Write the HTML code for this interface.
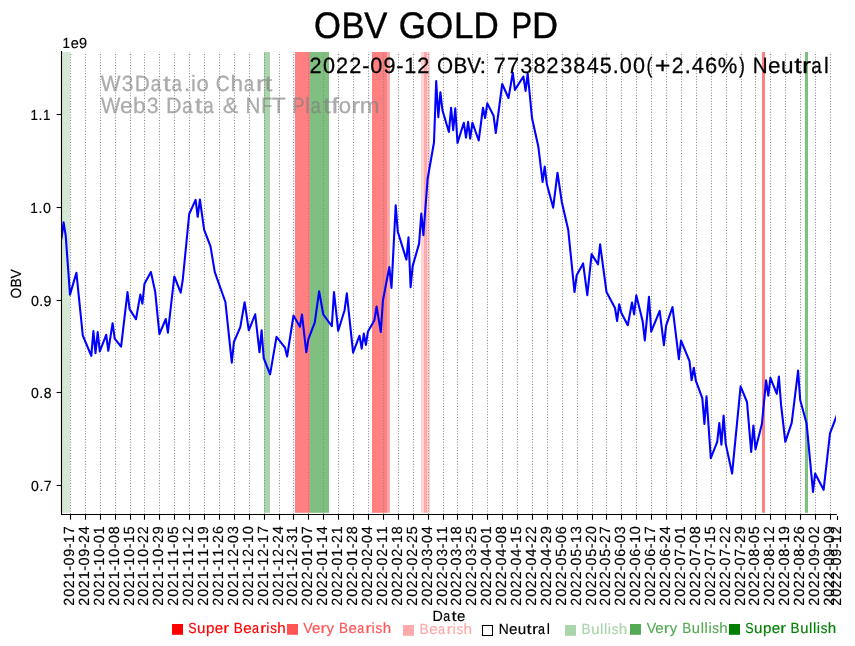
<!DOCTYPE html>
<html><head><meta charset="utf-8"><title>OBV GOLD PD</title>
<style>html,body{margin:0;padding:0;background:#fff}body{width:855px;height:646px;overflow:hidden;font-family:"Liberation Sans",sans-serif}svg text{font-family:"Liberation Sans",sans-serif;font-kerning:none;text-rendering:geometricPrecision}</style></head>
<body>
<svg width="855" height="646" viewBox="0 0 855 646" font-family="Liberation Sans, sans-serif" style="display:block;will-change:transform">
<rect x="62.0" y="52.0" width="8.0" height="460.8" fill="#d4e9d4"/>
<rect x="264.0" y="52.0" width="6.0" height="460.8" fill="#aad5aa"/>
<rect x="295.0" y="52.0" width="15.0" height="460.8" fill="#ff8080"/>
<rect x="310.0" y="52.0" width="19.0" height="460.8" fill="#7fbf7f"/>
<rect x="372.0" y="52.0" width="15.0" height="460.8" fill="#ff8080"/>
<rect x="387.0" y="52.0" width="3.0" height="460.8" fill="#ffaaaa"/>
<rect x="421.0" y="52.0" width="3.0" height="460.8" fill="#ffd4d4"/>
<rect x="424.0" y="52.0" width="3.0" height="460.8" fill="#ffaaaa"/>
<rect x="427.0" y="52.0" width="3.0" height="460.8" fill="#ffd4d4"/>
<rect x="762.0" y="52.0" width="3.0" height="460.8" fill="#ff8080"/>
<rect x="805.0" y="52.0" width="3.0" height="460.8" fill="#7fbf7f"/>
<path d="M70.5 514V52 M85.5 514V52 M100.5 514V52 M115.5 514V52 M130.5 514V52 M144.5 514V52 M159.5 514V52 M174.5 514V52 M189.5 514V52 M204.5 514V52 M219.5 514V52 M234.5 514V52 M249.5 514V52 M264.5 514V52 M279.5 514V52 M293.5 514V52 M308.5 514V52 M323.5 514V52 M338.5 514V52 M353.5 514V52 M368.5 514V52 M383.5 514V52 M398.5 514V52 M413.5 514V52 M428.5 514V52 M443.5 514V52 M457.5 514V52 M472.5 514V52 M487.5 514V52 M502.5 514V52 M517.5 514V52 M532.5 514V52 M547.5 514V52 M562.5 514V52 M577.5 514V52 M592.5 514V52 M606.5 514V52 M621.5 514V52 M636.5 514V52 M651.5 514V52 M666.5 514V52 M681.5 514V52 M696.5 514V52 M711.5 514V52 M726.5 514V52 M741.5 514V52 M755.5 514V52 M770.5 514V52 M785.5 514V52 M800.5 514V52 M815.5 514V52 M830.5 514V52" stroke="#888" stroke-width="1.1" stroke-dasharray="1.05 1.7" stroke-dashoffset="0.275" fill="none"/>
<g opacity="0.66">
<text transform="scale(0.9470 1)" x="106.45 128.60 142.23" y="90.8" font-size="22.1" fill="#808080" stroke="#808080" stroke-width="0.27">W3D</text><text transform="scale(0.8460 1)" x="178.08" y="90.8" font-size="22.1" fill="#808080" stroke="#808080" stroke-width="0.27">a</text><text transform="scale(1.2574 1)" x="129.70" y="90.8" font-size="22.1" fill="#808080" stroke="#808080" stroke-width="0.27">t</text><text transform="scale(0.8460 1)" x="202.78" y="90.8" font-size="22.1" fill="#808080" stroke="#808080" stroke-width="0.27">a</text><text transform="scale(0.9976 1)" x="184.51 191.36 196.93" y="90.8" font-size="22.1" fill="#808080" stroke="#808080" stroke-width="0.27">.io</text><text transform="scale(0.8734 1)" x="247.03" y="90.8" font-size="22.1" fill="#808080" stroke="#808080" stroke-width="0.27">C</text><text transform="scale(1.0214 1)" x="225.57" y="90.8" font-size="22.1" fill="#808080" stroke="#808080" stroke-width="0.27">h</text><text transform="scale(0.8460 1)" x="288.06" y="90.8" font-size="22.1" fill="#808080" stroke="#808080" stroke-width="0.27">a</text><text transform="scale(1.2317 1)" x="207.84 214.96" y="90.8" font-size="22.1" fill="#808080" stroke="#808080" stroke-width="0.27">rt</text>
<text transform="scale(0.9308 1)" x="108.52" y="113.3" font-size="22.1" fill="#808080" stroke="#808080" stroke-width="0.27">W</text><text transform="scale(1.0234 1)" x="117.25 130.07" y="113.3" font-size="22.1" fill="#808080" stroke="#808080" stroke-width="0.27">eb</text><text transform="scale(0.9558 1)" x="153.47" y="113.3" font-size="22.1" fill="#808080" stroke="#808080" stroke-width="0.27">3</text><text transform="scale(0.9768 1)" x="170.02" y="113.3" font-size="22.1" fill="#808080" stroke="#808080" stroke-width="0.27">D</text><text transform="scale(0.8490 1)" x="214.76" y="113.3" font-size="22.1" fill="#808080" stroke="#808080" stroke-width="0.27">a</text><text transform="scale(1.2618 1)" x="154.37" y="113.3" font-size="22.1" fill="#808080" stroke="#808080" stroke-width="0.27">t</text><text transform="scale(0.8490 1)" x="239.45" y="113.3" font-size="22.1" fill="#808080" stroke="#808080" stroke-width="0.27">a</text><text transform="scale(1.0511 1)" x="211.92" y="113.3" font-size="22.1" fill="#808080" stroke="#808080" stroke-width="0.27">&amp;</text><text transform="scale(0.9326 1)" x="263.27" y="113.3" font-size="22.1" fill="#808080" stroke="#808080" stroke-width="0.27">N</text><text transform="scale(0.8092 1)" x="322.95" y="113.3" font-size="22.1" fill="#808080" stroke="#808080" stroke-width="0.27">F</text><text transform="scale(1.0297 1)" x="263.98" y="113.3" font-size="22.1" fill="#808080" stroke="#808080" stroke-width="0.27">T</text><text transform="scale(0.8350 1)" x="350.08" y="113.3" font-size="22.1" fill="#808080" stroke="#808080" stroke-width="0.27">P</text><text transform="scale(0.9651 1)" x="315.92" y="113.3" font-size="22.1" fill="#808080" stroke="#808080" stroke-width="0.27">l</text><text transform="scale(0.8490 1)" x="365.86" y="113.3" font-size="22.1" fill="#808080" stroke="#808080" stroke-width="0.27">a</text><text transform="scale(1.2506 1)" x="258.38 264.83" y="113.3" font-size="22.1" fill="#808080" stroke="#808080" stroke-width="0.27">tf</text><text transform="scale(1.0037 1)" x="337.45" y="113.3" font-size="22.1" fill="#808080" stroke="#808080" stroke-width="0.27">o</text><text transform="scale(1.2097 1)" x="290.46" y="113.3" font-size="22.1" fill="#808080" stroke="#808080" stroke-width="0.27">r</text><text transform="scale(1.0757 1)" x="334.44" y="113.3" font-size="22.1" fill="#808080" stroke="#808080" stroke-width="0.27">m</text>
</g>
<clipPath id="c"><rect x="61.5" y="51.5" width="774.5" height="463.0"/></clipPath>
<polyline clip-path="url(#c)" points="61.5,238.3 63.6,222.4 65.7,235.5 70.0,294.6 76.4,272.7 82.8,335.5 91.3,355.9 93.4,331.1 95.5,353.1 97.7,332.0 99.8,351.4 106.2,334.8 108.3,350.8 112.6,323.2 114.7,338.6 121.1,346.7 127.5,292.1 129.6,309.1 136.0,319.2 140.3,294.6 142.4,303.7 144.5,283.7 150.9,272.0 155.2,291.8 159.4,334.0 165.8,319.0 167.9,332.6 174.3,276.5 180.7,292.7 182.8,279.5 189.2,214.0 195.6,199.9 197.7,216.8 199.9,199.5 204.1,229.6 210.5,246.4 214.8,272.1 225.4,302.0 231.8,362.6 233.9,342.0 240.3,327.1 244.6,302.2 248.8,330.3 255.2,314.3 259.5,352.3 261.6,330.3 263.7,358.0 270.1,374.4 276.5,336.8 285.0,347.7 287.1,356.5 293.5,315.5 299.9,326.7 302.0,314.5 306.3,352.3 308.4,339.2 314.8,322.4 319.1,291.3 323.3,314.5 331.8,326.1 334.0,292.0 338.2,330.8 344.6,310.2 346.8,293.4 353.1,352.6 359.5,335.7 361.7,348.6 363.8,333.6 365.9,344.9 368.0,331.4 374.4,320.2 376.6,306.5 380.8,332.0 382.9,300.5 389.3,267.1 391.5,288.0 395.7,205.2 397.8,231.8 406.4,259.6 408.5,237.4 410.6,287.1 412.7,265.9 419.1,243.6 421.3,213.6 423.4,235.1 427.6,179.0 434.0,142.3 436.2,81.0 438.3,117.1 440.4,92.2 442.5,110.5 448.9,132.0 451.1,107.7 453.2,130.2 455.3,108.3 457.5,142.9 463.8,122.7 466.0,137.7 468.1,121.8 470.2,138.6 472.4,122.7 478.7,140.5 483.0,107.7 485.1,118.0 487.3,103.4 493.6,115.8 495.8,133.0 502.2,84.0 508.5,98.0 512.8,72.7 514.9,89.9 523.4,76.5 525.6,90.9 527.7,73.5 532.0,118.0 538.3,146.4 542.6,182.0 544.7,166.6 546.9,184.3 553.2,207.7 557.5,172.7 561.8,202.0 568.2,229.7 574.5,292.0 576.7,275.2 583.1,263.4 587.3,295.2 591.6,254.1 598.0,264.3 600.1,244.3 606.5,292.0 615.0,308.0 617.1,321.0 619.2,304.2 621.4,313.0 627.8,325.2 632.0,302.5 634.1,314.4 636.3,295.2 642.7,321.4 644.8,340.5 649.0,296.9 651.2,331.6 659.7,310.9 663.9,345.2 666.1,325.6 672.5,307.1 678.9,359.2 681.0,340.5 689.5,361.1 691.6,380.2 693.8,367.7 695.9,380.8 702.3,398.1 704.4,424.0 706.5,396.3 710.8,458.2 717.2,441.8 719.3,423.0 721.4,444.6 723.6,415.6 725.7,443.6 732.1,473.6 740.6,386.3 747.0,402.0 751.2,452.0 753.4,425.5 755.5,449.2 761.9,424.0 766.1,380.3 768.3,395.7 770.4,377.8 776.8,393.9 778.9,376.6 781.0,404.2 785.3,441.8 791.7,422.8 798.1,370.6 800.2,400.0 806.6,423.4 813.0,491.9 815.1,473.6 823.6,489.8 830.0,433.3 836.4,416.4" fill="none" stroke="#0000ff" stroke-width="2.08" stroke-linejoin="round" stroke-linecap="square"/>
<path d="M61.5 51.0V514.5M60.95 514.5H836.9" fill="none" stroke="#000" stroke-width="1.11"/>
<path d="M70.5 514.5v5.2 M85.5 514.5v5.2 M100.5 514.5v5.2 M115.5 514.5v5.2 M130.5 514.5v5.2 M144.5 514.5v5.2 M159.5 514.5v5.2 M174.5 514.5v5.2 M189.5 514.5v5.2 M204.5 514.5v5.2 M219.5 514.5v5.2 M234.5 514.5v5.2 M249.5 514.5v5.2 M264.5 514.5v5.2 M279.5 514.5v5.2 M293.5 514.5v5.2 M308.5 514.5v5.2 M323.5 514.5v5.2 M338.5 514.5v5.2 M353.5 514.5v5.2 M368.5 514.5v5.2 M383.5 514.5v5.2 M398.5 514.5v5.2 M413.5 514.5v5.2 M428.5 514.5v5.2 M443.5 514.5v5.2 M457.5 514.5v5.2 M472.5 514.5v5.2 M487.5 514.5v5.2 M502.5 514.5v5.2 M517.5 514.5v5.2 M532.5 514.5v5.2 M547.5 514.5v5.2 M562.5 514.5v5.2 M577.5 514.5v5.2 M592.5 514.5v5.2 M606.5 514.5v5.2 M621.5 514.5v5.2 M636.5 514.5v5.2 M651.5 514.5v5.2 M666.5 514.5v5.2 M681.5 514.5v5.2 M696.5 514.5v5.2 M711.5 514.5v5.2 M726.5 514.5v5.2 M741.5 514.5v5.2 M755.5 514.5v5.2 M770.5 514.5v5.2 M785.5 514.5v5.2 M800.5 514.5v5.2 M815.5 514.5v5.2 M830.5 514.5v5.2 M837.5 516v3.9" stroke="#000" stroke-width="1.11" fill="none"/>
<text transform="translate(74.4 605.95) rotate(-90) scale(0.9764 1)" x="0.22 9.40 18.20 27.31 36.07 41.48 50.42 59.16 64.49 73.53" y="0" font-size="14.7" fill="#000" stroke="#000" stroke-width="0.18">2021-09-17</text>
<text transform="translate(89.4 605.95) rotate(-90) scale(0.9796 1)" x="0.20 9.35 18.13 27.20 35.94 41.32 50.24 58.95 64.15 73.29" y="0" font-size="14.7" fill="#000" stroke="#000" stroke-width="0.18">2021-09-24</text>
<text transform="translate(104.4 605.95) rotate(-90) scale(0.9704 1)" x="0.25 9.48 18.34 27.50 36.31 41.68 50.80 59.53 64.98 73.96" y="0" font-size="14.7" fill="#000" stroke="#000" stroke-width="0.18">2021-10-01</text>
<text transform="translate(119.4 605.95) rotate(-90) scale(0.9764 1)" x="0.22 9.40 18.20 27.31 36.07 41.40 50.47 59.15 64.56 73.55" y="0" font-size="14.7" fill="#000" stroke="#000" stroke-width="0.18">2021-10-08</text>
<text transform="translate(134.4 605.95) rotate(-90) scale(0.9640 1)" x="0.27 9.57 18.49 27.71 36.57 41.99 51.17 59.95 65.37 74.49" y="0" font-size="14.7" fill="#000" stroke="#000" stroke-width="0.18">2021-10-15</text>
<text transform="translate(148.4 605.95) rotate(-90) scale(0.9672 1)" x="0.26 9.53 18.42 27.61 36.44 41.84 50.98 59.74 65.02 74.10" y="0" font-size="14.7" fill="#000" stroke="#000" stroke-width="0.18">2021-10-22</text>
<text transform="translate(163.4 605.95) rotate(-90) scale(0.9748 1)" x="0.23 9.42 18.24 27.36 36.13 41.48 50.56 59.26 64.48 73.63" y="0" font-size="14.7" fill="#000" stroke="#000" stroke-width="0.18">2021-10-29</text>
<text transform="translate(178.4 605.95) rotate(-90) scale(0.9640 1)" x="0.27 9.57 18.49 27.71 36.57 41.99 51.10 59.95 65.44 74.49" y="0" font-size="14.7" fill="#000" stroke="#000" stroke-width="0.18">2021-11-05</text>
<text transform="translate(193.4 605.95) rotate(-90) scale(0.9614 1)" x="0.29 9.61 18.55 27.80 36.67 42.11 51.25 60.12 65.56 74.57" y="0" font-size="14.7" fill="#000" stroke="#000" stroke-width="0.18">2021-11-12</text>
<text transform="translate(208.4 605.95) rotate(-90) scale(0.9691 1)" x="0.25 9.50 18.37 27.55 36.36 41.74 50.80 59.62 65.00 74.09" y="0" font-size="14.7" fill="#000" stroke="#000" stroke-width="0.18">2021-11-19</text>
<text transform="translate(223.4 605.95) rotate(-90) scale(0.9702 1)" x="0.25 9.48 18.35 27.51 36.32 41.69 50.74 59.55 64.81 74.05" y="0" font-size="14.7" fill="#000" stroke="#000" stroke-width="0.18">2021-11-26</text>
<text transform="translate(238.4 605.95) rotate(-90) scale(0.9667 1)" x="0.26 9.53 18.43 27.62 36.46 41.86 50.82 59.77 65.24 74.34" y="0" font-size="14.7" fill="#000" stroke="#000" stroke-width="0.18">2021-12-03</text>
<text transform="translate(253.4 605.95) rotate(-90) scale(0.9664 1)" x="0.26 9.54 18.43 27.64 36.47 41.88 50.84 59.80 65.20 74.36" y="0" font-size="14.7" fill="#000" stroke="#000" stroke-width="0.18">2021-12-10</text>
<text transform="translate(268.4 605.95) rotate(-90) scale(0.9638 1)" x="0.27 9.57 18.49 27.72 36.57 42.00 50.99 59.96 65.38 74.54" y="0" font-size="14.7" fill="#000" stroke="#000" stroke-width="0.18">2021-12-17</text>
<text transform="translate(283.4 605.95) rotate(-90) scale(0.9674 1)" x="0.26 9.52 18.41 27.60 36.43 41.83 50.79 59.73 65.01 74.27" y="0" font-size="14.7" fill="#000" stroke="#000" stroke-width="0.18">2021-12-24</text>
<text transform="translate(297.4 605.95) rotate(-90) scale(0.9618 1)" x="0.28 9.60 18.54 27.79 36.66 42.09 51.10 60.09 65.62 74.66" y="0" font-size="14.7" fill="#000" stroke="#000" stroke-width="0.18">2021-12-31</text>
<text transform="translate(312.4 605.95) rotate(-90) scale(0.9736 1)" x="0.23 9.44 18.27 27.29 36.18 41.61 50.55 59.33 64.76 73.75" y="0" font-size="14.7" fill="#000" stroke="#000" stroke-width="0.18">2022-01-07</text>
<text transform="translate(327.4 605.95) rotate(-90) scale(0.9714 1)" x="0.24 9.47 18.32 27.36 36.27 41.71 50.68 59.47 64.84 73.95" y="0" font-size="14.7" fill="#000" stroke="#000" stroke-width="0.18">2022-01-14</text>
<text transform="translate(342.4 605.95) rotate(-90) scale(0.9672 1)" x="0.26 9.53 18.42 27.49 36.44 41.91 50.91 59.74 65.02 74.22" y="0" font-size="14.7" fill="#000" stroke="#000" stroke-width="0.18">2022-01-21</text>
<text transform="translate(357.4 605.95) rotate(-90) scale(0.9732 1)" x="0.23 9.44 18.28 27.30 36.20 41.62 50.57 59.36 64.60 73.80" y="0" font-size="14.7" fill="#000" stroke="#000" stroke-width="0.18">2022-01-28</text>
<text transform="translate(372.4 605.95) rotate(-90) scale(0.9769 1)" x="0.22 9.39 18.19 27.18 36.05 41.45 50.25 59.13 64.53 73.51" y="0" font-size="14.7" fill="#000" stroke="#000" stroke-width="0.18">2022-02-04</text>
<text transform="translate(387.4 605.95) rotate(-90) scale(0.9672 1)" x="0.26 9.53 18.42 27.49 36.44 41.91 50.80 59.74 65.14 74.22" y="0" font-size="14.7" fill="#000" stroke="#000" stroke-width="0.18">2022-02-11</text>
<text transform="translate(402.4 605.95) rotate(-90) scale(0.9732 1)" x="0.23 9.44 18.28 27.30 36.20 41.62 50.46 59.36 64.71 73.80" y="0" font-size="14.7" fill="#000" stroke="#000" stroke-width="0.18">2022-02-18</text>
<text transform="translate(417.4 605.95) rotate(-90) scale(0.9665 1)" x="0.26 9.53 18.43 27.51 36.46 41.94 50.84 59.79 65.07 74.29" y="0" font-size="14.7" fill="#000" stroke="#000" stroke-width="0.18">2022-02-25</text>
<text transform="translate(432.4 605.95) rotate(-90) scale(0.9764 1)" x="0.22 9.40 18.20 27.20 36.07 41.47 50.49 59.16 64.56 73.55" y="0" font-size="14.7" fill="#000" stroke="#000" stroke-width="0.18">2022-03-04</text>
<text transform="translate(447.4 605.95) rotate(-90) scale(0.9667 1)" x="0.26 9.53 18.43 27.51 36.46 41.93 51.03 59.77 65.17 74.25" y="0" font-size="14.7" fill="#000" stroke="#000" stroke-width="0.18">2022-03-11</text>
<text transform="translate(461.4 605.95) rotate(-90) scale(0.9727 1)" x="0.23 9.45 18.29 27.31 36.22 41.65 50.69 59.39 64.74 73.84" y="0" font-size="14.7" fill="#000" stroke="#000" stroke-width="0.18">2022-03-18</text>
<text transform="translate(476.4 605.95) rotate(-90) scale(0.9661 1)" x="0.26 9.54 18.44 27.53 36.48 41.96 51.07 59.81 65.10 74.32" y="0" font-size="14.7" fill="#000" stroke="#000" stroke-width="0.18">2022-03-25</text>
<text transform="translate(491.4 605.95) rotate(-90) scale(0.9761 1)" x="0.22 9.40 18.21 27.20 36.08 41.49 50.48 59.17 64.58 73.50" y="0" font-size="14.7" fill="#000" stroke="#000" stroke-width="0.18">2022-04-01</text>
<text transform="translate(506.4 605.95) rotate(-90) scale(0.9819 1)" x="0.19 9.32 18.08 27.02 35.86 41.22 50.16 58.81 64.17 73.12" y="0" font-size="14.7" fill="#000" stroke="#000" stroke-width="0.18">2022-04-08</text>
<text transform="translate(521.4 605.95) rotate(-90) scale(0.9698 1)" x="0.25 9.49 18.35 27.41 36.33 41.78 50.83 59.57 64.95 74.02" y="0" font-size="14.7" fill="#000" stroke="#000" stroke-width="0.18">2022-04-15</text>
<text transform="translate(536.4 605.95) rotate(-90) scale(0.9729 1)" x="0.23 9.45 18.28 27.31 36.21 41.64 50.66 59.37 64.61 73.64" y="0" font-size="14.7" fill="#000" stroke="#000" stroke-width="0.18">2022-04-22</text>
<text transform="translate(551.4 605.95) rotate(-90) scale(0.9804 1)" x="0.20 9.34 18.11 27.07 35.92 41.29 50.24 58.91 64.09 73.19" y="0" font-size="14.7" fill="#000" stroke="#000" stroke-width="0.18">2022-04-29</text>
<text transform="translate(566.4 605.95) rotate(-90) scale(0.9782 1)" x="0.21 9.37 18.16 27.14 36.00 41.39 50.31 59.04 64.43 73.41" y="0" font-size="14.7" fill="#000" stroke="#000" stroke-width="0.18">2022-05-06</text>
<text transform="translate(581.4 605.95) rotate(-90) scale(0.9652 1)" x="0.27 9.55 18.46 27.56 36.52 42.00 51.04 59.87 65.28 74.47" y="0" font-size="14.7" fill="#000" stroke="#000" stroke-width="0.18">2022-05-13</text>
<text transform="translate(596.4 605.95) rotate(-90) scale(0.9705 1)" x="0.24 9.48 18.34 27.39 36.31 41.75 50.74 59.53 64.79 74.02" y="0" font-size="14.7" fill="#000" stroke="#000" stroke-width="0.18">2022-05-20</text>
<text transform="translate(610.4 605.95) rotate(-90) scale(0.9681 1)" x="0.26 9.51 18.40 27.46 36.40 41.87 50.88 59.69 64.96 74.19" y="0" font-size="14.7" fill="#000" stroke="#000" stroke-width="0.18">2022-05-27</text>
<text transform="translate(625.4 605.95) rotate(-90) scale(0.9800 1)" x="0.20 9.35 18.12 27.08 35.93 41.31 50.27 58.93 64.31 73.28" y="0" font-size="14.7" fill="#000" stroke="#000" stroke-width="0.18">2022-06-03</text>
<text transform="translate(640.4 605.95) rotate(-90) scale(0.9798 1)" x="0.20 9.35 18.13 27.09 35.94 41.32 50.28 58.94 64.25 73.28" y="0" font-size="14.7" fill="#000" stroke="#000" stroke-width="0.18">2022-06-10</text>
<text transform="translate(655.4 605.95) rotate(-90) scale(0.9774 1)" x="0.21 9.38 18.18 27.16 36.03 41.43 50.41 59.10 64.42 73.45" y="0" font-size="14.7" fill="#000" stroke="#000" stroke-width="0.18">2022-06-17</text>
<text transform="translate(670.4 605.95) rotate(-90) scale(0.9806 1)" x="0.20 9.34 18.11 27.06 35.91 41.28 50.23 58.89 64.08 73.22" y="0" font-size="14.7" fill="#000" stroke="#000" stroke-width="0.18">2022-06-24</text>
<text transform="translate(685.4 605.95) rotate(-90) scale(0.9736 1)" x="0.23 9.44 18.27 27.29 36.18 41.61 50.60 59.33 64.76 73.70" y="0" font-size="14.7" fill="#000" stroke="#000" stroke-width="0.18">2022-07-01</text>
<text transform="translate(700.4 605.95) rotate(-90) scale(0.9795 1)" x="0.21 9.35 18.13 27.10 35.95 41.33 50.27 58.96 64.34 73.31" y="0" font-size="14.7" fill="#000" stroke="#000" stroke-width="0.18">2022-07-08</text>
<text transform="translate(715.4 605.95) rotate(-90) scale(0.9672 1)" x="0.26 9.52 18.41 27.49 36.44 41.91 50.95 59.74 65.14 74.23" y="0" font-size="14.7" fill="#000" stroke="#000" stroke-width="0.18">2022-07-15</text>
<text transform="translate(730.4 605.95) rotate(-90) scale(0.9704 1)" x="0.25 9.48 18.34 27.39 36.31 41.76 50.78 59.54 64.80 73.84" y="0" font-size="14.7" fill="#000" stroke="#000" stroke-width="0.18">2022-07-22</text>
<text transform="translate(745.4 605.95) rotate(-90) scale(0.9779 1)" x="0.21 9.38 18.17 27.15 36.01 41.40 50.35 59.06 64.27 73.39" y="0" font-size="14.7" fill="#000" stroke="#000" stroke-width="0.18">2022-07-29</text>
<text transform="translate(759.4 605.95) rotate(-90) scale(0.9756 1)" x="0.22 9.41 18.22 27.22 36.10 41.51 50.51 59.21 64.61 73.56" y="0" font-size="14.7" fill="#000" stroke="#000" stroke-width="0.18">2022-08-05</text>
<text transform="translate(774.4 605.95) rotate(-90) scale(0.9732 1)" x="0.23 9.44 18.28 27.30 36.20 41.62 50.64 59.36 64.71 73.62" y="0" font-size="14.7" fill="#000" stroke="#000" stroke-width="0.18">2022-08-12</text>
<text transform="translate(789.4 605.95) rotate(-90) scale(0.9807 1)" x="0.20 9.34 18.10 27.06 35.90 41.27 50.22 58.88 64.18 73.16" y="0" font-size="14.7" fill="#000" stroke="#000" stroke-width="0.18">2022-08-19</text>
<text transform="translate(804.4 605.95) rotate(-90) scale(0.9817 1)" x="0.20 9.32 18.08 27.03 35.86 41.23 50.17 58.82 64.00 73.13" y="0" font-size="14.7" fill="#000" stroke="#000" stroke-width="0.18">2022-08-26</text>
<text transform="translate(819.4 605.95) rotate(-90) scale(0.9803 1)" x="0.20 9.34 18.11 27.07 35.92 41.29 50.20 58.91 64.29 73.06" y="0" font-size="14.7" fill="#000" stroke="#000" stroke-width="0.18">2022-09-02</text>
<text transform="translate(834.4 605.95) rotate(-90) scale(0.9877 1)" x="0.17 9.24 17.95 26.84 35.63 40.95 49.80 58.45 63.77 72.61" y="0" font-size="14.7" fill="#000" stroke="#000" stroke-width="0.18">2022-09-09</text>
<text transform="translate(841.4 605.95) rotate(-90) scale(0.9756 1)" x="0.22 9.41 18.22 27.22 36.10 41.51 50.47 59.21 64.54 73.43" y="0" font-size="14.7" fill="#000" stroke="#000" stroke-width="0.18">2022-09-12</text>
<path d="M61.5 485.5h-4.9" stroke="#000" stroke-width="1.11"/>
<text transform="scale(0.9549 1)" x="32.54 41.29 45.92" y="490.9" font-size="14.7" fill="#000" stroke="#000" stroke-width="0.18">0.7</text>
<path d="M61.5 392.5h-4.9" stroke="#000" stroke-width="1.11"/>
<text transform="scale(0.9574 1)" x="32.40 41.05 45.61" y="397.9" font-size="14.7" fill="#000" stroke="#000" stroke-width="0.18">0.8</text>
<path d="M61.5 300.5h-4.9" stroke="#000" stroke-width="1.11"/>
<text transform="scale(0.9681 1)" x="32.01 40.59 45.05" y="305.9" font-size="14.7" fill="#000" stroke="#000" stroke-width="0.18">0.9</text>
<path d="M61.5 207.5h-4.9" stroke="#000" stroke-width="1.11"/>
<text transform="scale(0.9251 1)" x="32.61" y="212.9" font-size="14.7" fill="#000" stroke="#000" stroke-width="0.18">1</text><text transform="scale(0.9729 1)" x="39.54 44.12" y="212.9" font-size="14.7" fill="#000" stroke="#000" stroke-width="0.18">.0</text>
<path d="M61.5 114.5h-4.9" stroke="#000" stroke-width="1.11"/>
<text transform="scale(0.9078 1)" x="33.47" y="119.9" font-size="14.7" fill="#000" stroke="#000" stroke-width="0.18">1</text><text transform="scale(0.9757 1)" x="39.44" y="119.9" font-size="14.7" fill="#000" stroke="#000" stroke-width="0.18">.</text><text transform="scale(0.9078 1)" x="47.40" y="119.9" font-size="14.7" fill="#000" stroke="#000" stroke-width="0.18">1</text>
<text transform="scale(0.9185 1)" x="68.01" y="48.0" font-size="14.7" fill="#000" stroke="#000" stroke-width="0.18">1</text><text transform="scale(0.9894 1)" x="71.43 79.84" y="48.0" font-size="14.7" fill="#000" stroke="#000" stroke-width="0.18">e9</text>
<text transform="translate(21.1 298.65) rotate(-90) scale(0.9389 1)" x="0.11 11.82 21.51" y="0" font-size="14.7" fill="#000" stroke="#000" stroke-width="0.18">OBV</text>
<text transform="scale(0.9746 1)" x="443.81" y="620.7" font-size="14.7" fill="#000" stroke="#000" stroke-width="0.18">D</text><text transform="scale(0.8471 1)" x="523.35" y="620.7" font-size="14.7" fill="#000" stroke="#000" stroke-width="0.18">a</text><text transform="scale(1.2590 1)" x="358.69" y="620.7" font-size="14.7" fill="#000" stroke="#000" stroke-width="0.18">t</text><text transform="scale(1.0174 1)" x="449.21" y="620.7" font-size="14.7" fill="#000" stroke="#000" stroke-width="0.18">e</text>
<text transform="scale(0.9404 1)" x="333.80 363.10 387.37" y="37.5" font-size="36.8" fill="#000" stroke="#000" stroke-width="0.44">OBV</text><text transform="scale(0.9508 1)" x="419.35 448.01 477.52 498.07" y="37.5" font-size="36.8" fill="#000" stroke="#000" stroke-width="0.44">GOLD</text><text transform="scale(0.8376 1)" x="610.68" y="37.5" font-size="36.8" fill="#000" stroke="#000" stroke-width="0.44">P</text><text transform="scale(0.9799 1)" x="543.02" y="37.5" font-size="36.8" fill="#000" stroke="#000" stroke-width="0.44">D</text>
<text transform="scale(0.9804 1)" x="315.58 329.39 342.64 356.17 369.53 377.66 391.12 404.26 412.28 425.64" y="72.5" font-size="22.1" fill="#000" stroke="#000" stroke-width="0.27">2022-09-12</text><text transform="scale(0.9368 1)" x="466.52 484.11 498.69" y="72.5" font-size="22.1" fill="#000" stroke="#000" stroke-width="0.27">OBV</text><text transform="scale(1.0208 1)" x="470.10" y="72.5" font-size="22.1" fill="#000" stroke="#000" stroke-width="0.27">:</text><text transform="scale(0.9780 1)" x="504.86 518.42 532.06 545.59 558.87 572.75 586.28 599.84 613.33 626.65 633.75 647.32" y="72.5" font-size="22.1" fill="#000" stroke="#000" stroke-width="0.27">773823845.00</text><text transform="scale(0.7975 1)" x="810.55" y="72.5" font-size="22.1" fill="#000" stroke="#000" stroke-width="0.27">(</text><text transform="scale(1.2155 1)" x="538.63" y="72.5" font-size="22.1" fill="#000" stroke="#000" stroke-width="0.27">+</text><text transform="scale(0.9586 1)" x="700.79" y="72.5" font-size="22.1" fill="#000" stroke="#000" stroke-width="0.27">2</text><text transform="scale(0.9932 1)" x="689.51 696.45 709.81 722.79" y="72.5" font-size="22.1" fill="#000" stroke="#000" stroke-width="0.27">.46%</text><text transform="scale(0.7975 1)" x="926.80" y="72.5" font-size="22.1" fill="#000" stroke="#000" stroke-width="0.27">)</text><text transform="scale(0.9319 1)" x="807.68" y="72.5" font-size="22.1" fill="#000" stroke="#000" stroke-width="0.27">N</text><text transform="scale(1.0181 1)" x="754.42 767.12" y="72.5" font-size="22.1" fill="#000" stroke="#000" stroke-width="0.27">eu</text><text transform="scale(1.2351 1)" x="642.99 649.43" y="72.5" font-size="22.1" fill="#000" stroke="#000" stroke-width="0.27">tr</text><text transform="scale(0.8484 1)" x="956.13" y="72.5" font-size="22.1" fill="#000" stroke="#000" stroke-width="0.27">a</text><text transform="scale(0.9644 1)" x="854.42" y="72.5" font-size="22.1" fill="#000" stroke="#000" stroke-width="0.27">l</text>
<rect x="172.0" y="624.0" width="11" height="10.8" fill="#ff0000"/>
<rect x="287.0" y="624.0" width="11" height="10.8" fill="#ff5555"/>
<rect x="403.0" y="625.0" width="11" height="10.8" fill="#ffaaaa"/>
<rect x="565.0" y="625.0" width="11" height="10.8" fill="#aad4aa"/>
<rect x="630.0" y="624.0" width="11" height="10.8" fill="#55aa55"/>
<rect x="729.0" y="624.0" width="11" height="10.8" fill="#008000"/>
<rect x="482.5" y="625.5" width="10" height="10" fill="#fff" stroke="#000" stroke-width="1.05"/>
<text transform="scale(0.8484 1)" x="221.98" y="632.8" font-size="14.7" fill="#ff0000" stroke="#ff0000" stroke-width="0.18">S</text><text transform="scale(1.0299 1)" x="191.33 200.05 208.49" y="632.8" font-size="14.7" fill="#ff0000" stroke="#ff0000" stroke-width="0.18">upe</text><text transform="scale(1.2194 1)" x="183.11" y="632.8" font-size="14.7" fill="#ff0000" stroke="#ff0000" stroke-width="0.18">r</text><text transform="scale(0.9247 1)" x="252.70" y="632.8" font-size="14.7" fill="#ff0000" stroke="#ff0000" stroke-width="0.18">B</text><text transform="scale(1.0280 1)" x="236.52" y="632.8" font-size="14.7" fill="#ff0000" stroke="#ff0000" stroke-width="0.18">e</text><text transform="scale(0.8559 1)" x="294.35" y="632.8" font-size="14.7" fill="#ff0000" stroke="#ff0000" stroke-width="0.18">a</text><text transform="scale(1.2194 1)" x="213.44" y="632.8" font-size="14.7" fill="#ff0000" stroke="#ff0000" stroke-width="0.18">r</text><text transform="scale(0.9729 1)" x="273.72" y="632.8" font-size="14.7" fill="#ff0000" stroke="#ff0000" stroke-width="0.18">i</text><text transform="scale(0.9123 1)" x="296.19" y="632.8" font-size="14.7" fill="#ff0000" stroke="#ff0000" stroke-width="0.18">s</text><text transform="scale(1.0333 1)" x="268.41" y="632.8" font-size="14.7" fill="#ff0000" stroke="#ff0000" stroke-width="0.18">h</text>
<text transform="scale(0.9642 1)" x="314.59" y="632.8" font-size="14.7" fill="#ff5555" stroke="#ff5555" stroke-width="0.18">V</text><text transform="scale(1.0263 1)" x="303.91" y="632.8" font-size="14.7" fill="#ff5555" stroke="#ff5555" stroke-width="0.18">e</text><text transform="scale(1.2174 1)" x="263.22" y="632.8" font-size="14.7" fill="#ff5555" stroke="#ff5555" stroke-width="0.18">r</text><text transform="scale(1.0203 1)" x="319.97" y="632.8" font-size="14.7" fill="#ff5555" stroke="#ff5555" stroke-width="0.18">y</text><text transform="scale(0.9231 1)" x="367.30" y="632.8" font-size="14.7" fill="#ff5555" stroke="#ff5555" stroke-width="0.18">B</text><text transform="scale(1.0263 1)" x="339.60" y="632.8" font-size="14.7" fill="#ff5555" stroke="#ff5555" stroke-width="0.18">e</text><text transform="scale(0.8544 1)" x="418.17" y="632.8" font-size="14.7" fill="#ff5555" stroke="#ff5555" stroke-width="0.18">a</text><text transform="scale(1.2174 1)" x="300.34" y="632.8" font-size="14.7" fill="#ff5555" stroke="#ff5555" stroke-width="0.18">r</text><text transform="scale(0.9712 1)" x="382.64" y="632.8" font-size="14.7" fill="#ff5555" stroke="#ff5555" stroke-width="0.18">i</text><text transform="scale(0.9108 1)" x="412.34" y="632.8" font-size="14.7" fill="#ff5555" stroke="#ff5555" stroke-width="0.18">s</text><text transform="scale(1.0315 1)" x="370.96" y="632.8" font-size="14.7" fill="#ff5555" stroke="#ff5555" stroke-width="0.18">h</text>
<text transform="scale(0.9318 1)" x="450.27" y="633.8" font-size="14.7" fill="#ffaaaa" stroke="#ffaaaa" stroke-width="0.18">B</text><text transform="scale(1.0360 1)" x="414.22" y="633.8" font-size="14.7" fill="#ffaaaa" stroke="#ffaaaa" stroke-width="0.18">e</text><text transform="scale(0.8625 1)" x="507.81" y="633.8" font-size="14.7" fill="#ffaaaa" stroke="#ffaaaa" stroke-width="0.18">a</text><text transform="scale(1.2289 1)" x="363.25" y="633.8" font-size="14.7" fill="#ffaaaa" stroke="#ffaaaa" stroke-width="0.18">r</text><text transform="scale(0.9804 1)" x="461.49" y="633.8" font-size="14.7" fill="#ffaaaa" stroke="#ffaaaa" stroke-width="0.18">i</text><text transform="scale(0.9194 1)" x="496.43" y="633.8" font-size="14.7" fill="#ffaaaa" stroke="#ffaaaa" stroke-width="0.18">s</text><text transform="scale(1.0413 1)" x="445.21" y="633.8" font-size="14.7" fill="#ffaaaa" stroke="#ffaaaa" stroke-width="0.18">h</text>
<text transform="scale(0.9429 1)" x="528.86" y="633.8" font-size="14.7" fill="#000" stroke="#000" stroke-width="0.18">N</text><text transform="scale(1.0302 1)" x="494.14 502.59" y="633.8" font-size="14.7" fill="#000" stroke="#000" stroke-width="0.18">eu</text><text transform="scale(1.2497 1)" x="421.37 425.66" y="633.8" font-size="14.7" fill="#000" stroke="#000" stroke-width="0.18">tr</text><text transform="scale(0.8584 1)" x="626.77" y="633.8" font-size="14.7" fill="#000" stroke="#000" stroke-width="0.18">a</text><text transform="scale(0.9758 1)" x="560.23" y="633.8" font-size="14.7" fill="#000" stroke="#000" stroke-width="0.18">l</text>
<text transform="scale(0.9221 1)" x="630.71" y="633.8" font-size="14.7" fill="#aad4aa" stroke="#aad4aa" stroke-width="0.18">B</text><text transform="scale(1.0030 1)" x="589.45 598.27 602.14 606.01" y="633.8" font-size="14.7" fill="#aad4aa" stroke="#aad4aa" stroke-width="0.18">ulli</text><text transform="scale(0.9098 1)" x="672.42" y="633.8" font-size="14.7" fill="#aad4aa" stroke="#aad4aa" stroke-width="0.18">s</text><text transform="scale(1.0304 1)" x="600.60" y="633.8" font-size="14.7" fill="#aad4aa" stroke="#aad4aa" stroke-width="0.18">h</text>
<text transform="scale(0.9604 1)" x="673.30" y="632.8" font-size="14.7" fill="#55aa55" stroke="#55aa55" stroke-width="0.18">V</text><text transform="scale(1.0222 1)" x="640.93" y="632.8" font-size="14.7" fill="#55aa55" stroke="#55aa55" stroke-width="0.18">e</text><text transform="scale(1.2125 1)" x="547.34" y="632.8" font-size="14.7" fill="#55aa55" stroke="#55aa55" stroke-width="0.18">r</text><text transform="scale(1.0163 1)" x="658.95" y="632.8" font-size="14.7" fill="#55aa55" stroke="#55aa55" stroke-width="0.18">y</text><text transform="scale(0.9194 1)" x="741.99" y="632.8" font-size="14.7" fill="#55aa55" stroke="#55aa55" stroke-width="0.18">B</text><text transform="scale(1.0001 1)" x="691.76 700.58 704.45 708.32" y="632.8" font-size="14.7" fill="#55aa55" stroke="#55aa55" stroke-width="0.18">ulli</text><text transform="scale(0.9072 1)" x="785.20" y="632.8" font-size="14.7" fill="#55aa55" stroke="#55aa55" stroke-width="0.18">s</text><text transform="scale(1.0274 1)" x="700.18" y="632.8" font-size="14.7" fill="#55aa55" stroke="#55aa55" stroke-width="0.18">h</text>
<text transform="scale(0.8465 1)" x="880.54" y="632.8" font-size="14.7" fill="#008000" stroke="#008000" stroke-width="0.18">S</text><text transform="scale(1.0275 1)" x="733.84 742.56 751.00" y="632.8" font-size="14.7" fill="#008000" stroke="#008000" stroke-width="0.18">upe</text><text transform="scale(1.2166 1)" x="641.31" y="632.8" font-size="14.7" fill="#008000" stroke="#008000" stroke-width="0.18">r</text><text transform="scale(0.9225 1)" x="856.95" y="632.8" font-size="14.7" fill="#008000" stroke="#008000" stroke-width="0.18">B</text><text transform="scale(1.0034 1)" x="797.45 806.28 810.14 814.01" y="632.8" font-size="14.7" fill="#008000" stroke="#008000" stroke-width="0.18">ulli</text><text transform="scale(0.9102 1)" x="901.72" y="632.8" font-size="14.7" fill="#008000" stroke="#008000" stroke-width="0.18">s</text><text transform="scale(1.0309 1)" x="803.06" y="632.8" font-size="14.7" fill="#008000" stroke="#008000" stroke-width="0.18">h</text>
</svg>
</body></html>
